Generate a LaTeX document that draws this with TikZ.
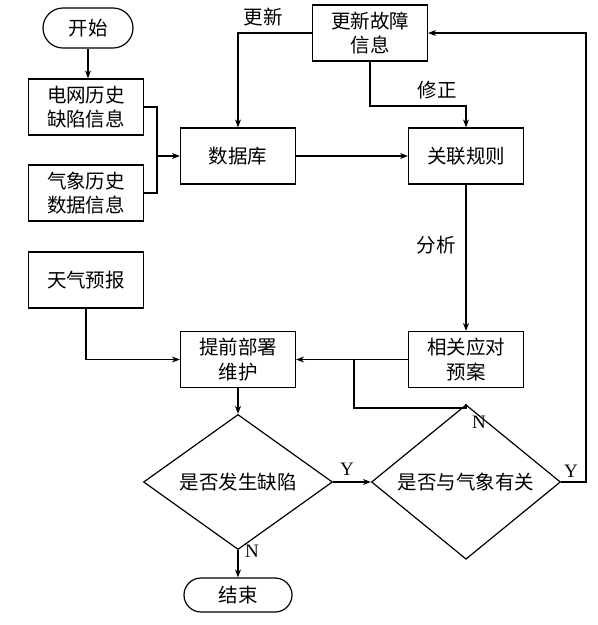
\documentclass[tikz,border=0pt]{standalone}
\usepackage{fontspec}
\setmainfont{Liberation Serif}
\newfontfamily\cjk{Noto Sans CJK SC}
\usetikzlibrary{arrows.meta,shapes.geometric}
\tikzset{
  box/.style={draw,line width=1.2pt,minimum width=115pt,minimum height=56pt,inner sep=0pt,align=center,font=\cjk\fontsize{19.5}{24.5}\selectfont},
  term/.style={draw,line width=1.2pt,inner sep=0pt,font=\cjk\fontsize{19.5}{24.5}\selectfont},
  dia/.style={draw,line width=1.2pt,shape=diamond,minimum width=189pt,minimum height=91pt,inner sep=0pt,font=\cjk\fontsize{19.5}{24.5}\selectfont},
  lbl/.style={font=\cjk\fontsize{19.5}{24.5}\selectfont},
  yn/.style={font=\fontsize{19}{22}\selectfont},
  line/.style={line width=1.2pt},
  arr/.style={line width=1.2pt,-{Stealth[length=8pt,width=6pt]}}
}
\begin{document}
\begin{tikzpicture}[x=1pt,y=-1pt]
\useasboundingbox (0,0) rectangle (598,625);
% nodes
\node[term,minimum width=90pt,minimum height=40pt,rounded corners=20pt] (start) at (88,28) {开始};
\node[box] (e1) at (86,107) {电网历史\\缺陷信息};
\node[box] (e2) at (86,193) {气象历史\\数据信息};
\node[box] (db) at (238,156) {数据库};
\node[box] (upd) at (370,33) {更新故障\\信息};
\node[box] (rule) at (466,156) {关联规则};
\node[box] (wx) at (86,280) {天气预报};
\node[box] (pre) at (238,359.5) {提前部署\\维护};
\node[box] (plan) at (466,359.5) {相关应对\\预案};
\node[dia] (d1) at (238,482) {是否发生缺陷};
\node[dia] (d2) at (466,482) {是否与气象有关};
\node[term,minimum width=108pt,minimum height=34pt,rounded corners=17pt] (stop) at (238,595) {结束};
% coordinates
\coordinate (m) at (157,156);
\coordinate (fixc) at (466,106);
\coordinate (nturn) at (354,408);
\coordinate (nj) at (354,359.5);
\coordinate (rtop) at (586,33);
% connectors
\draw[arr] (start.south) -- (start.south |- e1.north);
\draw[line] (e1.east) -| (m);
\draw[line] (e2.east) -| (m);
\draw[arr] (m) -- (db.west);
\draw[arr] (db.east) -- (rule.west);
\draw[arr] (upd.west) -| (db.north);
\draw[arr] (upd.south) |- (fixc) -- (rule.north);
\draw[arr] (rule.south) -- (plan.north);
\draw[arr] (wx.south) |- (pre.west);
\draw[arr] (plan.west) -- (pre.east);
\draw[line] (d2.north) |- (nturn) -- (nj);
\draw[arr] (pre.south) -- (d1.north);
\draw[arr] (d1.east) -- (d2.west);
\draw[arr] (d2.east) -| (rtop) -- (upd.east);
\draw[arr] (d1.south) -- (stop.north);
% labels
\node[lbl] at (263,17) {更新};
\node[lbl] at (437,90) {修正};
\node[lbl] at (436,245) {分析};
\node[yn] at (479,422) {N};
\node[yn] at (347,469) {Y};
\node[yn] at (571,471) {Y};
\node[yn] at (252,551) {N};
\end{tikzpicture}
\end{document}
